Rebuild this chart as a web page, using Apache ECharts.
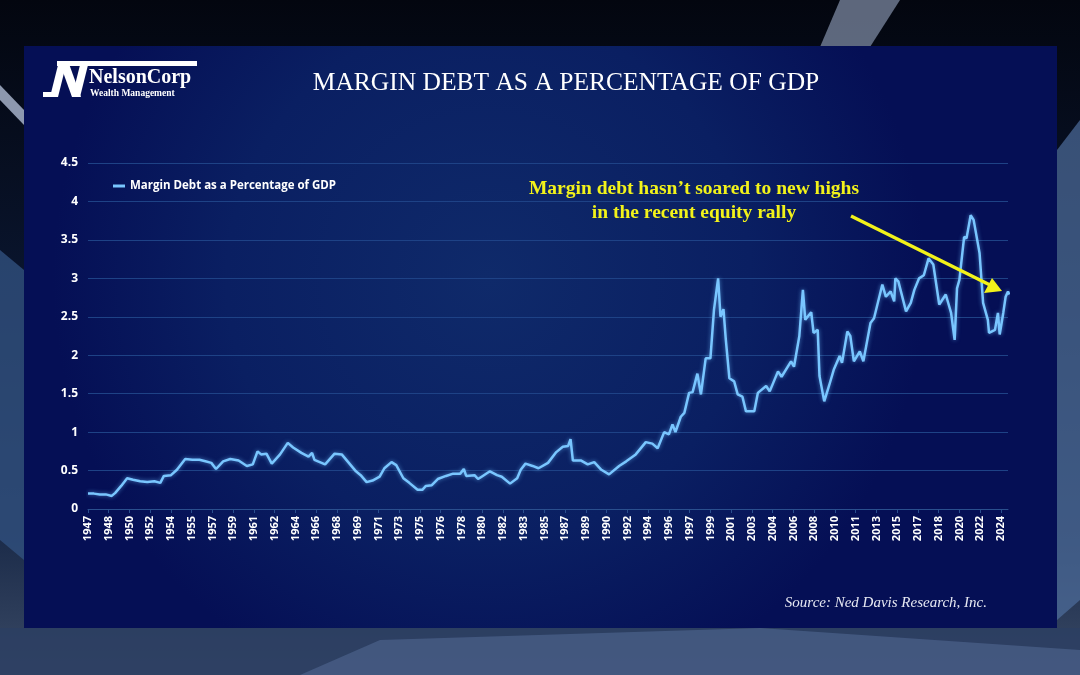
<!DOCTYPE html>
<html>
<head>
<meta charset="utf-8">
<script src="https://cdn.jsdelivr.net/npm/echarts@6/dist/echarts.min.js"></script>
<style>
html,body{margin:0;padding:0;background:#050a18;}
#c{width:1080px;height:675px;}
</style>
</head>
<body>
<div id="c"></div>
<script>
// ---- data ----
const seriesName = 'Margin Debt as a Percentage of GDP';
const years = [
1947.0,1947.5,1948.0,1948.5,1949.0,1949.3,1949.8,1950.3,1950.8,1951.4,1952.0,1952.6,1953.1,1953.4,1954.0,1954.5,
1955.2,1955.8,1956.4,1956.9,1957.4,1957.8,1958.4,1959.0,1959.7,1960.4,1960.9,1961.3,1961.6,1962.05,1962.5,1963.2,
1963.85,1964.3,1965.0,1965.6,1965.9,1966.1,1967.0,1967.8,1968.4,1969.0,1969.6,1970.0,1970.5,1971.0,1971.6,1972.0,
1972.6,1973.0,1973.6,1974.1,1974.8,1975.2,1975.5,1976.0,1976.5,1977.2,1977.8,1978.4,1978.7,1978.9,1979.6,1979.9,
1980.3,1980.9,1981.5,1981.9,1982.6,1983.2,1983.5,1983.9,1984.5,1985.0,1985.8,1986.5,1987.05,1987.5,1987.7,1987.9,
1988.6,1989.15,1989.7,1990.3,1990.95,1991.8,1992.4,1993.2,1994.05,1994.6,1995.05,1995.6,1996.0,1996.3,1996.55,1997.0,
1997.3,1997.7,1998.0,1998.4,1998.7,1999.1,1999.5,1999.8,2000.15,2000.35,2000.6,2000.8,2001.1,2001.5,2001.8,2002.2,
2002.5,2003.2,2003.5,2004.2,2004.5,2005.2,2005.5,2006.3,2006.55,2007.0,2007.3,2007.5,2008.0,2008.2,2008.55,2008.7,
2009.1,2009.5,2009.9,2010.4,2010.6,2011.05,2011.3,2011.6,2012.1,2012.4,2013.0,2013.3,2014.0,2014.3,2014.7,2015.0,
2015.1,2015.35,2016.0,2016.4,2016.7,2017.1,2017.5,2017.9,2018.3,2018.8,2019.35,2019.8,2020.1,2020.3,2020.5,2020.9,
2021.1,2021.45,2021.7,2022.2,2022.5,2022.9,2023.0,2023.5,2023.75,2023.9,2024.2,2024.4,2024.6,2024.7
];
const values = [
0.20,0.20,0.19,0.19,0.17,0.21,0.30,0.40,0.38,0.36,0.35,0.36,0.34,0.43,0.44,0.51,
0.65,0.64,0.64,0.62,0.60,0.52,0.62,0.65,0.63,0.56,0.58,0.75,0.71,0.72,0.59,0.71,
0.86,0.80,0.73,0.68,0.73,0.64,0.58,0.72,0.71,0.60,0.49,0.44,0.35,0.37,0.42,0.53,
0.61,0.57,0.40,0.34,0.25,0.25,0.30,0.31,0.39,0.43,0.46,0.46,0.52,0.43,0.44,0.39,
0.43,0.49,0.44,0.42,0.33,0.40,0.51,0.59,0.56,0.53,0.60,0.74,0.81,0.82,0.91,0.63,
0.63,0.58,0.61,0.51,0.45,0.56,0.62,0.71,0.87,0.85,0.79,1.00,0.97,1.10,1.00,1.20,
1.25,1.51,1.52,1.76,1.49,1.96,1.96,2.59,3.00,2.50,2.60,2.20,1.70,1.66,1.49,1.46,
1.27,1.27,1.51,1.60,1.53,1.79,1.72,1.92,1.85,2.25,2.85,2.46,2.56,2.29,2.33,1.73,
1.40,1.60,1.81,1.99,1.90,2.31,2.25,1.92,2.05,1.92,2.42,2.48,2.92,2.76,2.83,2.70,
3.00,2.96,2.57,2.68,2.85,3.00,3.04,3.26,3.18,2.66,2.79,2.55,2.20,2.87,2.98,3.54,
3.52,3.82,3.76,3.33,2.68,2.46,2.29,2.33,2.55,2.27,2.55,2.76,2.83,2.79
];
const startYear = 1947;
const yTicks = [0,0.5,1,1.5,2,2.5,3,3.5,4,4.5];
const titleText = 'MARGIN DEBT AS A PERCENTAGE OF GDP';
const noteLines = ['Margin debt hasn\u2019t soared to new highs', 'in the recent equity rally'];
const sourceText = 'Source: Ned Davis Research, Inc.';

const chart = echarts.init(document.getElementById('c'), null, {renderer:'canvas'});
const data = years.map((y,i)=>[y-startYear, values[i]]);
const step = 1.75;

const option = {
  backgroundColor: {
    type:'linear', x:0, y:0, x2:0, y2:1,
    colorStops:[{offset:0,color:'#03060f'},{offset:0.45,color:'#0a1630'},{offset:0.8,color:'#1c2c4a'},{offset:1,color:'#3a4a66'}]
  },
  animation:false,
  graphic:[
    // decorative side streaks
    {type:'polygon', z:-20, shape:{points:[[0,85],[24,110],[24,125],[0,100]]}, style:{fill:'#c8d4ee', opacity:0.7}},
    {type:'polygon', z:-20, shape:{points:[[0,250],[24,270],[24,560],[0,540]]}, style:{fill:'#31507e', opacity:0.8}},
    {type:'polygon', z:-20, shape:{points:[[1057,150],[1080,120],[1080,600],[1057,620]]}, style:{fill:'#4e6d9c', opacity:0.7}},
    {type:'polygon', z:-20, shape:{points:[[840,0],[900,0],[870,47],[820,47]]}, style:{fill:'#9aa8c4', opacity:0.6}},
    {type:'polygon', z:-20, shape:{points:[[0,628],[1080,628],[1080,675],[0,675]]}, style:{fill:'#2c3f63', opacity:0.8}},
    {type:'polygon', z:-19, shape:{points:[[380,640],[760,628],[1080,650],[1080,675],[300,675]]}, style:{fill:'#6b84b4', opacity:0.35}},
    // main panel
    {type:'rect', z:-10, shape:{x:24,y:46,width:1033,height:582},
      style:{fill:{type:'radial', x:0.45, y:0.4, r:0.75,
        colorStops:[{offset:0,color:'#0f2a6a'},{offset:0.6,color:'#0a1f62'},{offset:1,color:'#050f55'}]}}},
    // logo
    {type:'rect', z:5, shape:{x:57,y:61,width:140,height:5}, style:{fill:'#ffffff'}},
    {type:'rect', z:5, shape:{x:43,y:92,width:13,height:5}, style:{fill:'#ffffff'}},
    {type:'polygon', z:5, shape:{points:[[50,97],[58,97],[67,61],[59,61]]}, style:{fill:'#ffffff'}},
    {type:'polygon', z:5, shape:{points:[[59,61],[68,61],[81,97],[72,97]]}, style:{fill:'#ffffff'}},
    {type:'polygon', z:5, shape:{points:[[72,97],[80,97],[89,61],[81,61]]}, style:{fill:'#ffffff'}},
    {type:'text', z:5, x:89, y:88, style:{text:'NelsonCorp', fill:'#ffffff', font:'bold 20px "Liberation Serif"', textVerticalAlign:'bottom'}},
    {type:'text', z:5, x:90, y:99, style:{text:'Wealth Management', fill:'#ffffff', font:'bold 9.5px "Liberation Serif"', textVerticalAlign:'bottom'}},
    // title
    {type:'text', z:5, x:566, y:83, style:{text:titleText, fill:'#ffffff', font:'25.5px "Liberation Serif"', textAlign:'center', textVerticalAlign:'middle'}},
    // annotation
    {type:'text', z:5, x:694, y:189, style:{text:noteLines[0], fill:'#f2f21a', font:'bold 19.5px "Liberation Serif"', textAlign:'center', textVerticalAlign:'middle'}},
    {type:'text', z:5, x:694, y:213, style:{text:noteLines[1], fill:'#f2f21a', font:'bold 19.5px "Liberation Serif"', textAlign:'center', textVerticalAlign:'middle'}},
    {type:'line', z:6, shape:{x1:851,y1:216,x2:990,y2:285}, style:{stroke:'#f2f21a', lineWidth:3.5}},
    {type:'polygon', z:6, shape:{points:[[1002,291],[984,293],[992,278]]}, style:{fill:'#f2f21a'}},
    // source
    {type:'text', z:5, x:987, y:603, style:{text:sourceText, fill:'#e6e8f2', font:'italic 15px "Liberation Serif"', textAlign:'right', textVerticalAlign:'middle'}}
  ],
  legend:{
    left:108, top:175, icon:'rect', itemWidth:12, itemHeight:3, itemGap:10,
    textStyle:{color:'#ffffff', fontFamily:'Open Sans', fontWeight:'bold', fontSize:11.5},
    data:[seriesName]
  },
  grid:{left:88, right:72, top:163, bottom:166, containLabel:false},
  xAxis:{
    type:'value', min:0, max:77.6, interval:step,
    axisLine:{show:true, lineStyle:{color:'#2a4f8e', width:1}},
    axisTick:{show:true, length:4, lineStyle:{color:'#2a4f8e'}},
    splitLine:{show:false},
    axisLabel:{
      rotate:90, margin:7, color:'#ffffff', fontFamily:'Open Sans', fontWeight:'bold', fontSize:11,
      showMaxLabel:false,
      formatter:function(v){
        const k = Math.round(v/step);
        if (Math.abs(k*step - v) > 1e-6) return '';
        return String(Math.floor(startYear + v + 1e-9));
      }
    }
  },
  yAxis:{
    type:'value', min:yTicks[0], max:yTicks[yTicks.length-1], interval:0.5,
    axisLine:{show:false}, axisTick:{show:false},
    splitLine:{show:true, lineStyle:{color:'#1e4286', width:1}},
    axisLabel:{color:'#ffffff', fontFamily:'Open Sans', fontWeight:'bold', fontSize:12, margin:10,
      formatter:function(v){ return String(v); }}
  },
  series:[{
    name:seriesName, type:'line', data:data, showSymbol:false, smooth:false,
    lineStyle:{color:'#79c6ff', width:2.5, shadowBlur:4, shadowColor:'rgba(110,190,255,0.6)'},
    itemStyle:{color:'#79c6ff'}
  }]
};
chart.setOption(option);
</script>
</body>
</html>
